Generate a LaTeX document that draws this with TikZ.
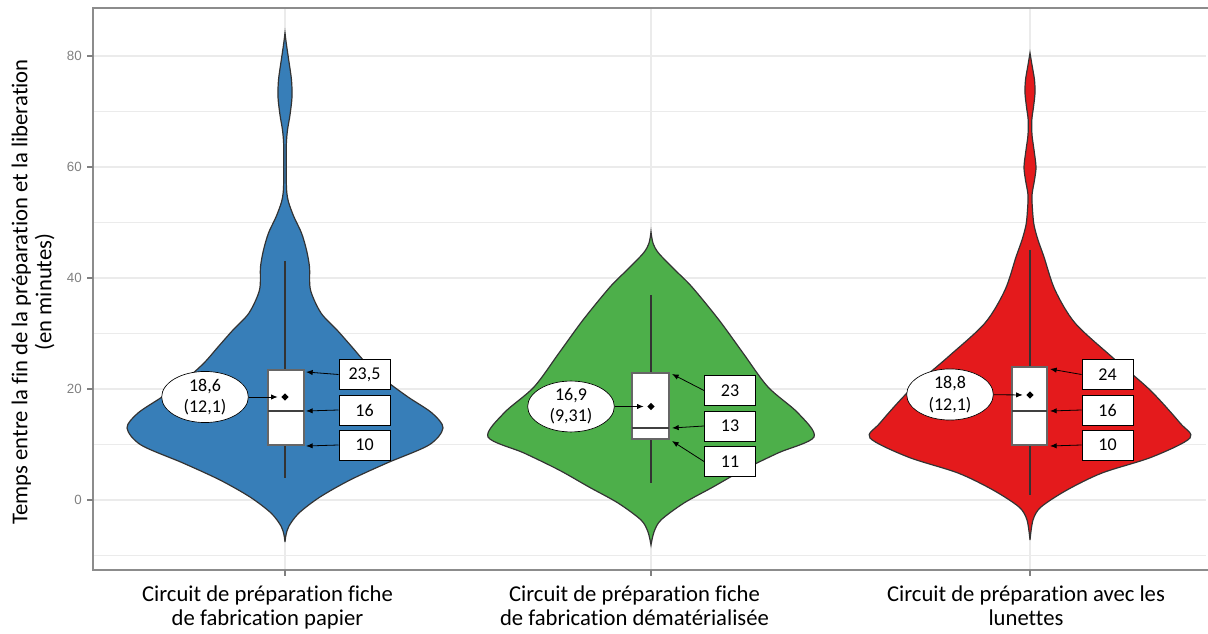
\documentclass[tikz,border=0pt]{standalone}
\usepackage{fontspec}
\setmainfont{Carlito}[RawFeature={-liga;-clig;-calt;-dlig}]
\newfontfamily\tickfont{Liberation Sans}
\usetikzlibrary{shapes.geometric,arrows.meta}

\definecolor{vblue}{HTML}{377EB8}
\definecolor{vgreen}{HTML}{4DAF4A}
\definecolor{vred}{HTML}{E41A1C}
\definecolor{gridgray}{HTML}{EBEBEB}
\definecolor{edgegray}{HTML}{333333}

\tikzset{
	violin/.style={draw=edgegray, line width=0.9pt},
	whisk/.style={draw=edgegray, line width=1.1pt},
	qbox/.style={draw=black!60, fill=white, line width=1.1pt},
	med/.style={draw=black!75, line width=1.6pt},
	valbox/.style={shape=rectangle, draw=black, fill=white, line width=0.5pt, minimum width=38.5pt, minimum height=22.5pt, inner sep=0pt, font=\fontsize{13.5}{15}\selectfont},
	meanlbl/.style={shape=ellipse, draw=black, fill=white, line width=0.5pt, minimum width=65pt, minimum height=38pt, inner sep=0pt, align=center, font=\fontsize{13.5}{16}\selectfont},
	meandot/.style={shape=diamond, fill=black, inner sep=0pt, minimum size=5.5pt},
	arr/.style={-{Latex[length=5pt,width=4pt]}, line width=0.6pt},
	ticklbl/.style={anchor=east, inner sep=0pt, text=black!50, font=\tickfont\fontsize{10}{12}\selectfont},
	axlbl/.style={align=center, inner sep=0pt, font=\fontsize{17}{18}\selectfont}
}

\begin{document}
\begin{tikzpicture}[x=0.75pt, y=-0.75pt]
	\useasboundingbox (0,0) rectangle (1208,634);

	% grid
	\foreach \v in {-10,10,...,70}
		\draw[gridgray, line width=0.5pt] (93,{500-5.55*\v}) -- (1206,{500-5.55*\v});
	\foreach \v in {0,20,...,80}
		\draw[gridgray, line width=1pt] (93,{500-5.55*\v}) -- (1206,{500-5.55*\v});
	\foreach \c in {285,651,1030}
		\draw[gridgray, line width=1pt] (\c,8) -- (\c,570);

	% violins
	\begin{scope}[shift={(285,0)}]
	\draw[violin, fill=vblue] plot[smooth, tension=0.5] coordinates {(0,33) (1.5,45) (4,62) (6.5,80) (7,97) (5,115) (2.5,130) (1.3,145) (1.2,170) (1.6,190) (3.5,202) (9,217) (16.5,233) (21.5,250) (24.5,267) (25.5,290) (36,313) (52,330) (67,347) (81,363) (100,380) (123,397) (147,413) (158,428) (144,445) (102,463) (65,480) (35,497) (14,513) (4,526) (1,535) (0,542)}
		-- plot[smooth, tension=0.5] coordinates {(0,542) (-1,535) (-4,526) (-14,513) (-35,497) (-65,480) (-102,463) (-144,445) (-158,428) (-147,413) (-123,397) (-100,380) (-81,363) (-67,347) (-52,330) (-36,313) (-25.5,290) (-24.5,267) (-21.5,250) (-16.5,233) (-9,217) (-3.5,202) (-1.6,190) (-1.2,170) (-1.3,145) (-2.5,130) (-5,115) (-7,97) (-6.5,80) (-4,62) (-1.5,45) (0,33)} -- cycle;
	\end{scope}
	\begin{scope}[shift={(651,0)}]
	\draw[violin, fill=vgreen] plot[smooth, tension=0.5] coordinates {(0,232) (2,243) (7.5,253) (24,270) (41,287) (68,320) (92,353) (117,387) (147,413) (163,437) (127,453) (92,470) (62,487) (33,503) (10,520) (3,532) (0,545)}
		-- plot[smooth, tension=0.5] coordinates {(0,545) (-3,532) (-10,520) (-33,503) (-62,487) (-92,470) (-127,453) (-163,437) (-147,413) (-117,387) (-92,353) (-68,320) (-41,287) (-24,270) (-7.5,253) (-2,243) (0,232)} -- cycle;
	\end{scope}
	\begin{scope}[shift={(1030,0)}]
	\draw[violin, fill=vred] plot[smooth, tension=0.5] coordinates {(0,53) (2,65) (4.5,80) (5,93) (3.5,107) (1.8,120) (2,135) (4,150) (6,167) (4.5,180) (2,195) (2.5,210) (4,225) (8,240) (14,257) (25,290) (45,323) (82,357) (120,390) (150,423) (160,438) (122,457) (72,473) (37,490) (11,507) (3,520) (0,540)}
		-- plot[smooth, tension=0.5] coordinates {(0,540) (-3,520) (-11,507) (-37,490) (-72,473) (-122,457) (-160,438) (-150,423) (-120,390) (-82,357) (-45,323) (-25,290) (-14,257) (-8,240) (-4,225) (-2.5,210) (-2,195) (-4.5,180) (-6,167) (-4,150) (-2,135) (-1.8,120) (-3.5,107) (-5,93) (-4.5,80) (-2,65) (0,53)} -- cycle;
	\end{scope}

	% whiskers and boxes
	\draw[whisk] (285,261) -- (285,478);
	\draw[qbox] (268,370) rectangle (304,445);
	\draw[med] (268,411) -- (304,411);
	\draw[whisk] (651,295) -- (651,483);
	\draw[qbox] (632,373) rectangle (669,439);
	\draw[med] (632,428) -- (669,428);
	\draw[whisk] (1030,250) -- (1030,495);
	\draw[qbox] (1012,367) rectangle (1047,445);
	\draw[med] (1012,411) -- (1047,411);

	\node[meandot] (da) at (285,397) {};
	\node[meandot] (dg) at (651,406.5) {};
	\node[meandot] (dr) at (1030,395) {};

	% arrow targets
	\coordinate (q3a) at (306,372);
	\coordinate (mda) at (306,411);
	\coordinate (q1a) at (306,446);
	\coordinate (q3g) at (672,374);
	\coordinate (mdg) at (672,428);
	\coordinate (q1g) at (672,441);
	\coordinate (q3r) at (1050,369);
	\coordinate (mdr) at (1050,411);
	\coordinate (q1r) at (1050,446);

	% labels
	\node[meanlbl] (ea) at (205,397)   {18,6\\(12,1)};
	\node[valbox]  (la1) at (364.5,374.5) {23,5};
	\node[valbox]  (la2) at (364.5,410)   {16};
	\node[valbox]  (la3) at (364.5,445)   {10};
	\node[meanlbl] (eg) at (571,406.5) {16,9\\(9,31)};
	\node[valbox]  (lg1) at (730,390.5) {23};
	\node[valbox]  (lg2) at (730,426)   {13};
	\node[valbox]  (lg3) at (730,461.5) {11};
	\node[meanlbl] (er) at (950,394.5) {18,8\\(12,1)};
	\node[valbox]  (lr1) at (1107.5,374.5) {24};
	\node[valbox]  (lr2) at (1107.5,410)   {16};
	\node[valbox]  (lr3) at (1107.5,445)   {10};

	\draw[arr, shorten >=2.5pt] (ea) -- (da);
	\draw[arr] (la1.west) -- (q3a);
	\draw[arr] (la2.west) -- (mda);
	\draw[arr] (la3.west) -- (q1a);
	\draw[arr, shorten >=2.5pt] (eg) -- (dg);
	\draw[arr] (lg1.west) -- (q3g);
	\draw[arr] (lg2.west) -- (mdg);
	\draw[arr] (lg3.west) -- (q1g);
	\draw[arr, shorten >=2.5pt] (er) -- (dr);
	\draw[arr] (lr1.west) -- (q3r);
	\draw[arr] (lr2.west) -- (mdr);
	\draw[arr] (lr3.west) -- (q1r);

	% frame and axes
	\draw[black!45, line width=0.9pt] (1210,8) -- (93,8) -- (93,570) -- (1210,570);
	\foreach \v in {0,20,...,80} {
		\draw[black!50, line width=0.8pt] (87,{500-5.55*\v}) -- (93,{500-5.55*\v});
		\node[ticklbl] at (82,{500-5.55*\v}) {\v};
	}
	\foreach \c in {285,651,1030}
		\draw[black!50, line width=0.8pt] (\c,570) -- (\c,576);

	\node[axlbl, rotate=90] (ytit) at (33,292) {Temps entre la fin de la préparation et la liberation\\(en minutes)};
	\node[axlbl, anchor=north] (xa) at (267.5,585) {Circuit de préparation fiche\\de fabrication papier};
	\node[axlbl, anchor=north] (xg) at (634.5,585) {Circuit de préparation fiche\\de fabrication dématérialisée};
	\node[axlbl, anchor=north] (xr) at (1026,585) {Circuit de préparation avec les\\lunettes};
\end{tikzpicture}
\end{document}
